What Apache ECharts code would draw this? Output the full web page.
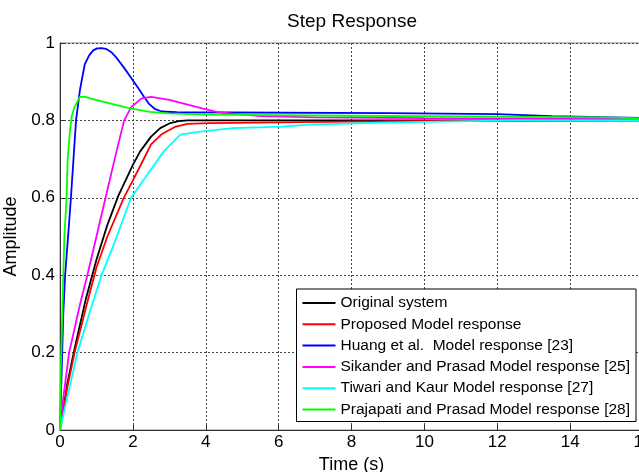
<!DOCTYPE html>
<html>
<head>
<meta charset="utf-8">
<script src="https://cdn.jsdelivr.net/npm/echarts@6/dist/echarts.min.js"></script>
<style>
  html, body { margin: 0; padding: 0; background: #fff; }
  #stepChart { width: 639px; height: 472px; }
</style>
</head>
<body>
<div id="stepChart"></div>
<script>
// step response data, [time (s), amplitude]
var originalSystem = [[0, 0], [0.2, 0.12], [0.4, 0.21], [0.7, 0.335], [1.0, 0.44], [1.3, 0.53], [1.6, 0.605],
    [2.0, 0.685], [2.2, 0.72], [2.5, 0.758], [2.75, 0.78], [3.0, 0.792], [3.25, 0.798], [3.5, 0.8], [16, 0.8]];
var proposedModel = [[0, 0], [0.2, 0.11], [0.4, 0.2], [0.75, 0.33], [1.0, 0.42], [1.3, 0.5], [1.75, 0.6],
    [2.0, 0.645], [2.35, 0.71], [2.5, 0.738], [2.8, 0.765], [3.15, 0.783], [3.5, 0.791], [4.1, 0.793],
    [6, 0.795], [8, 0.797], [10, 0.798], [12, 0.799], [16, 0.8]];
var huangModel = [[0, 0], [0.09, 0.3], [0.14, 0.4], [0.23, 0.51], [0.3, 0.6], [0.37, 0.7], [0.44, 0.8],
    [0.55, 0.88], [0.68, 0.945], [0.8, 0.968], [0.91, 0.981], [1.02, 0.986], [1.14, 0.987], [1.26, 0.985],
    [1.4, 0.977], [1.55, 0.962], [1.75, 0.937], [1.96, 0.909], [2.15, 0.883], [2.3, 0.862], [2.45, 0.842],
    [2.6, 0.83], [2.79, 0.823], [3.2, 0.821], [9, 0.819], [12, 0.816], [13.5, 0.811], [16, 0.806]];
var sikanderModel = [[0, 0], [0.1, 0.09], [0.25, 0.2], [0.55, 0.325], [0.75, 0.4], [1.0, 0.5], [1.25, 0.6],
    [1.5, 0.7], [1.76, 0.8], [1.96, 0.835], [2.24, 0.857], [2.5, 0.861], [3.0, 0.853], [3.9, 0.831],
    [4.3, 0.822], [4.8, 0.817], [5.5, 0.811], [7, 0.808], [10, 0.806], [16, 0.805]];
var tiwariModel = [[0, 0], [0.2, 0.085], [0.48, 0.2], [0.8, 0.3], [1.14, 0.4], [1.5, 0.485], [1.95, 0.6],
    [2.4, 0.66], [2.85, 0.72], [3.3, 0.763], [3.85, 0.771], [4.75, 0.78], [6.1, 0.784], [6.85, 0.789],
    [7.6, 0.791], [8.8, 0.794], [10.4, 0.797], [12.5, 0.8], [16, 0.8]];
var prajapatiModel = [[0, 0], [0.02, 0.15], [0.05, 0.25], [0.09, 0.4], [0.12, 0.5], [0.18, 0.6], [0.21, 0.7],
    [0.27, 0.77], [0.32, 0.81], [0.4, 0.835], [0.55, 0.861], [0.7, 0.861], [0.82, 0.857], [1.2, 0.848],
    [1.92, 0.831], [2.47, 0.822], [3, 0.818], [4, 0.815], [8, 0.812], [12, 0.81], [15, 0.808], [16, 0.805]];

var seriesNames = ['Original system', 'Proposed Model response', 'Huang et al.  Model response [23]',
    'Sikander and Prasad Model response [25]', 'Tiwari and Kaur Model response [27]',
    'Prajapati and Prasad Model response [28]'];
var seriesData = [originalSystem, proposedModel, huangModel, sikanderModel, tiwariModel, prajapatiModel];
var seriesColors = ['#000000', '#ff0000', '#0000ff', '#ff00ff', '#00ffff', '#00ff00'];

var FONT = '"Liberation Sans", Arial, sans-serif';

var stepChart = echarts.init(document.getElementById('stepChart'));

var series = [];
for (var i = 0; i < seriesData.length; i++) {
    series.push({
        name: seriesNames[i],
        type: 'line',
        data: seriesData[i],
        symbol: 'none',
        smooth: false,
        color: seriesColors[i],
        lineStyle: { width: 1.8, color: seriesColors[i] }
    });
}

var option = {
    animation: false,
    backgroundColor: '#fff',
    textStyle: { fontFamily: FONT },
    title: {
        text: 'Step Response',
        left: 352,
        top: 12,
        textAlign: 'center',
        padding: 0,
        textStyle: { fontFamily: FONT, fontSize: 19, fontWeight: 'normal', color: '#000' }
    },
    legend: {
        data: seriesNames,
        orient: 'vertical',
        right: 3,
        top: 289,
        icon: 'rect',
        itemWidth: 33,
        itemHeight: 2,
        itemGap: 5.3,
        padding: [6, 6, 4, 6],
        backgroundColor: '#fff',
        borderColor: '#000',
        borderWidth: 1,
        selectedMode: false,
        textStyle: { fontFamily: FONT, fontSize: 15.5, lineHeight: 16, color: '#000' }
    },
    grid: {
        left: 60,
        top: 43,
        width: 583,
        height: 387,
        outerBoundsMode: 'none',
        containLabel: false,
        show: true,
        borderColor: '#888',
        borderWidth: 1,
        backgroundColor: '#fff'
    },
    xAxis: {
        type: 'value',
        min: 0,
        max: 16,
        interval: 2,
        name: 'Time (s)',
        nameLocation: 'middle',
        nameGap: 24,
        nameTextStyle: { fontFamily: FONT, fontSize: 18, color: '#000' },
        axisLine: { lineStyle: { color: '#333', width: 1 } },
        axisTick: { inside: true, length: 5, lineStyle: { color: '#333' } },
        axisLabel: { fontFamily: FONT, fontSize: 17, color: '#000', margin: 4 },
        splitLine: { show: true, lineStyle: { color: '#444', type: [2, 2], width: 1 } }
    },
    yAxis: {
        type: 'value',
        min: 0,
        max: 1,
        interval: 0.2,
        name: 'Amplitude',
        nameLocation: 'middle',
        nameGap: 30,
        nameTextStyle: { fontFamily: FONT, fontSize: 18, color: '#000' },
        axisLine: { show: true, lineStyle: { color: '#333', width: 1 } },
        axisTick: { show: true, inside: true, length: 5, lineStyle: { color: '#333' } },
        axisLabel: { fontFamily: FONT, fontSize: 17, color: '#000', margin: 5 },
        splitLine: { show: true, lineStyle: { color: '#444', type: [2, 2], width: 1 } }
    },
    series: series
};

stepChart.setOption(option);
</script>
</body>
</html>
